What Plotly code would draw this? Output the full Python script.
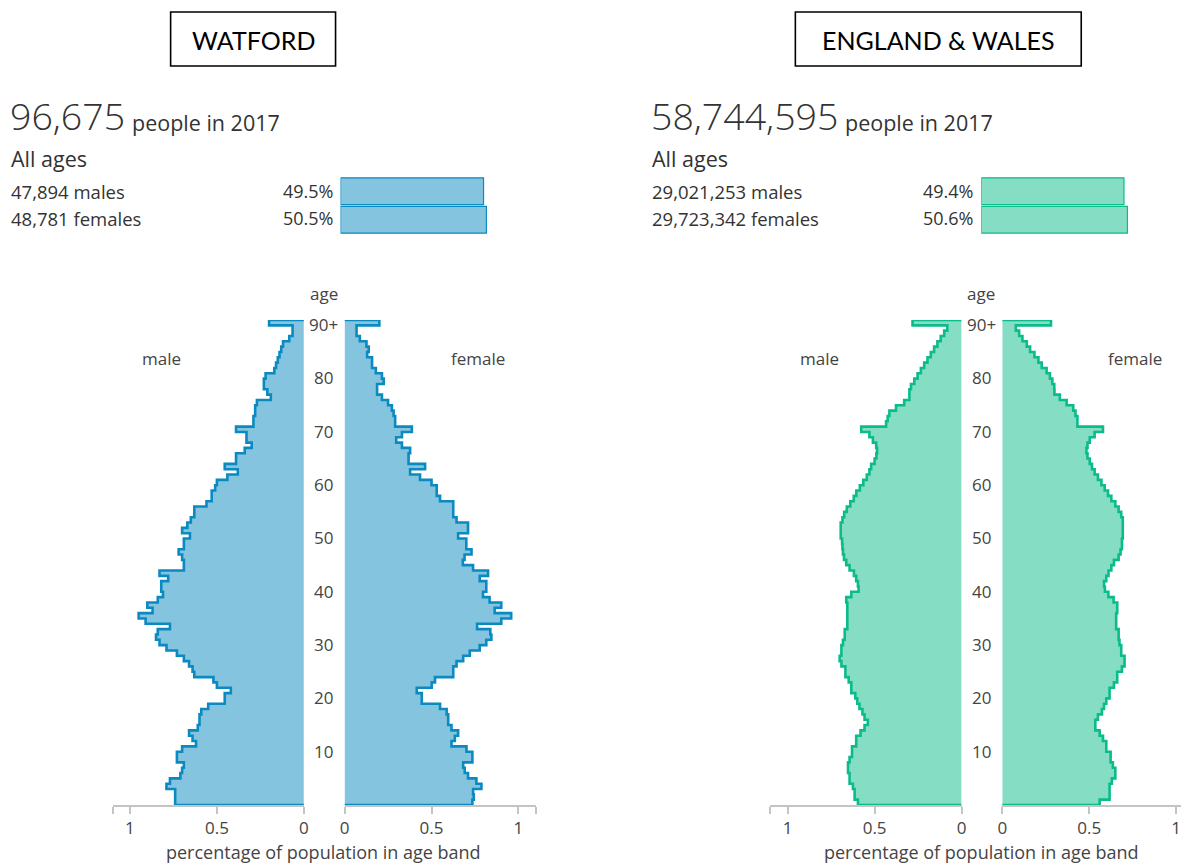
import plotly.graph_objects as go

W, H = 1186, 865

ages = list(range(0, 91))

watford_male = [0.74, 0.74, 0.74, 0.79, 0.77, 0.71, 0.70, 0.69, 0.73, 0.73,
                0.70, 0.62, 0.64, 0.66, 0.61, 0.60, 0.60, 0.59, 0.55, 0.455,
                0.455, 0.42, 0.50, 0.52, 0.63, 0.64, 0.66, 0.69, 0.73, 0.79,
                0.83, 0.85, 0.84, 0.77, 0.91, 0.95, 0.87, 0.90, 0.84, 0.81,
                0.82, 0.82, 0.78, 0.83, 0.69, 0.69, 0.70, 0.72, 0.69, 0.69,
                0.655, 0.70, 0.67, 0.65, 0.63, 0.63, 0.56, 0.53, 0.53, 0.51,
                0.50, 0.44, 0.38, 0.455, 0.39, 0.39, 0.34, 0.30, 0.33, 0.33,
                0.39, 0.29, 0.29, 0.28, 0.28, 0.27, 0.19, 0.21, 0.23, 0.23,
                0.22, 0.17, 0.16, 0.15, 0.14, 0.13, 0.12, 0.084, 0.065, 0.065,
                0.20]

watford_female = [0.735, 0.743, 0.739, 0.787, 0.758, 0.71, 0.691, 0.682, 0.735, 0.735,
                  0.701, 0.615, 0.634, 0.653, 0.615, 0.596, 0.596, 0.587, 0.549, 0.444,
                  0.444, 0.415, 0.501, 0.52, 0.625, 0.625, 0.644, 0.682, 0.72, 0.777,
                  0.815, 0.844, 0.838, 0.762, 0.901, 0.958, 0.863, 0.901, 0.834, 0.796,
                  0.815, 0.815, 0.777, 0.825, 0.739, 0.68, 0.69, 0.73, 0.70, 0.70,
                  0.653, 0.71, 0.71, 0.644, 0.625, 0.625, 0.625, 0.549, 0.53, 0.53,
                  0.50, 0.434, 0.377, 0.463, 0.368, 0.368, 0.377, 0.33, 0.297, 0.33,
                  0.387, 0.291, 0.291, 0.282, 0.272, 0.25, 0.215, 0.187, 0.187, 0.225,
                  0.215, 0.18, 0.158, 0.158, 0.13, 0.139, 0.126, 0.088, 0.069, 0.069,
                  0.20]

ew_male = [0.596, 0.615, 0.615, 0.625, 0.644, 0.644, 0.653, 0.653, 0.644, 0.63,
           0.63, 0.606, 0.606, 0.581, 0.558, 0.539, 0.558, 0.57, 0.587, 0.60,
           0.611, 0.634, 0.634, 0.649, 0.668, 0.668, 0.691, 0.701, 0.691, 0.691,
           0.682, 0.672, 0.672, 0.657, 0.657, 0.657, 0.657, 0.657, 0.663, 0.634,
           0.592, 0.596, 0.606, 0.619, 0.644, 0.663, 0.676, 0.682, 0.685, 0.687,
           0.695, 0.695, 0.695, 0.685, 0.675, 0.66, 0.64, 0.62, 0.605, 0.585,
           0.565, 0.545, 0.53, 0.52, 0.50, 0.49, 0.486, 0.491, 0.51, 0.53,
           0.577, 0.434, 0.425, 0.415, 0.377, 0.33, 0.30, 0.30, 0.291, 0.272,
           0.253, 0.234, 0.215, 0.196, 0.177, 0.158, 0.139, 0.12, 0.10, 0.082,
           0.282]

ew_female = [0.56, 0.617, 0.617, 0.617, 0.63, 0.65, 0.65, 0.636, 0.623, 0.623,
             0.598, 0.598, 0.579, 0.56, 0.535, 0.535, 0.55, 0.573, 0.585, 0.598,
             0.617, 0.617, 0.642, 0.661, 0.661, 0.688, 0.703, 0.703, 0.684, 0.684,
             0.674, 0.669, 0.669, 0.655, 0.655, 0.655, 0.661, 0.661, 0.64, 0.61,
             0.59, 0.585, 0.598, 0.611, 0.627, 0.642, 0.669, 0.68, 0.688, 0.688,
             0.693, 0.693, 0.693, 0.693, 0.684, 0.669, 0.65, 0.627, 0.608, 0.589,
             0.57, 0.55, 0.531, 0.516, 0.503, 0.49, 0.484, 0.49, 0.503, 0.531,
             0.579, 0.432, 0.432, 0.421, 0.408, 0.37, 0.331, 0.30, 0.299, 0.288,
             0.274, 0.255, 0.227, 0.208, 0.185, 0.16, 0.141, 0.116, 0.097, 0.078,
             0.28]

age_tick_vals = [10, 20, 30, 40, 50, 60, 70, 80, 90]
age_tick_text = ["10", "20", "30", "40", "50", "60", "70", "80", "90+"]

sex_labels = ["males", "females"]
watford_share = [0.495, 0.505]
ew_share = [0.494, 0.506]
watford_counts = ["47,894 males", "48,781 females"]
ew_counts = ["29,021,253 males", "29,723,342 females"]
watford_pct = ["49.5%", "50.5%"]
ew_pct = ["49.4%", "50.6%"]
watford_total = "96,675"
ew_total = "58,744,595"

BLUE = "#0a8ac0"
BLUE_FILL = "rgba(10,138,192,0.5)"
GREEN = "#0bbb8a"
GREEN_FILL = "rgba(11,187,138,0.5)"
TXT = "#333333"
AX = "#c4c4c4"
FONT = "Open Sans"

# horizontal calibration of layout positions
XOFF, XSCALE = 4.3, 0.992
X_RIGHT_EFF = XOFF + XSCALE * W


def px(x):
    v = ((x - XOFF) / XSCALE) / W
    return min(max(v, 0.0), 1.0)


def py(y):
    return 1 - y / H


def step_trace(vals, color, fill, xaxis):
    xs = [0, vals[0]] + list(vals) + [vals[-1], 0]
    ys = [ages[0] - 0.5, ages[0] - 0.5] + list(ages) + [ages[-1] + 0.5, ages[-1] + 0.5]
    return go.Scatter(x=xs, y=ys, mode="lines", line=dict(color=color, width=2.6, shape="vhv"),
                      fill="toself", fillcolor=fill, xaxis=xaxis, yaxis="y",
                      hoverinfo="skip", showlegend=False)


fig = go.Figure()
fig.add_trace(step_trace(watford_male, BLUE, BLUE_FILL, "x"))
fig.add_trace(step_trace(watford_female, BLUE, BLUE_FILL, "x2"))
fig.add_trace(step_trace(ew_male, GREEN, GREEN_FILL, "x3"))
fig.add_trace(step_trace(ew_female, GREEN, GREEN_FILL, "x4"))

# summary bars
fig.add_trace(go.Bar(x=watford_share, y=sex_labels, orientation="h", xaxis="x5", yaxis="y5",
                     marker=dict(color=BLUE_FILL, line=dict(color=BLUE, width=1.2)),
                     width=0.94, hoverinfo="skip", showlegend=False))
fig.add_trace(go.Bar(x=ew_share, y=sex_labels, orientation="h", xaxis="x6", yaxis="y6",
                     marker=dict(color=GREEN_FILL, line=dict(color=GREEN, width=1.2)),
                     width=0.94, hoverinfo="skip", showlegend=False))

YDOM = [py(805), py(320)]
UNIT = 174.0


def xax(zero_px, side, maxv=1.1):
    if side == "male":
        left = zero_px - maxv * UNIT
        rng = [maxv, 0]
        dom = [px(left), px(zero_px)]
        tv = [maxv, 1, 0.5, 0]
        tt = ["", "1", "0.5", "0"]
    else:
        right = zero_px + maxv * UNIT
        tv = [0, 0.5, 1, maxv]
        tt = ["0", "0.5", "1", ""]
        if right > X_RIGHT_EFF:
            right = X_RIGHT_EFF
            maxv = (right - zero_px) / UNIT
            tv = [0, 0.5, 1]
            tt = ["0", "0.5", "1"]
        rng = [0, maxv]
        dom = [px(zero_px), px(right)]
    return dict(domain=dom, range=rng, anchor="y", showgrid=False, zeroline=False,
                showline=True, linecolor=AX, linewidth=1.5, ticks="outside", ticklen=7,
                tickcolor=AX, tickwidth=1.5, tickvals=tv, ticktext=tt, layer="below traces",
                tickfont=dict(family=FONT, size=17, color="#444"), fixedrange=True)


BAR_UNIT = 289.0
fig.update_layout(
    width=W, height=H, autosize=False, margin=dict(l=0, r=0, t=0, b=0),
    paper_bgcolor="white", plot_bgcolor="rgba(0,0,0,0)",
    xaxis=xax(303.3, "male"),
    xaxis2=xax(344.0, "female"),
    xaxis3=xax(961.3, "male"),
    xaxis4=xax(1002.0, "female"),
    yaxis=dict(domain=YDOM, range=[-0.5, 90.5], visible=False, fixedrange=True),
    xaxis5=dict(domain=[px(340.0), px(340.0 + 0.6 * BAR_UNIT)], range=[0, 0.6], visible=False,
                anchor="y5", fixedrange=True),
    yaxis5=dict(domain=[py(234), py(177)], range=[1.5, -0.5], visible=False, anchor="x5",
                fixedrange=True),
    xaxis6=dict(domain=[px(981.0), px(981.0 + 0.6 * BAR_UNIT)], range=[0, 0.6], visible=False,
                anchor="y6", fixedrange=True),
    yaxis6=dict(domain=[py(234), py(177)], range=[1.5, -0.5], visible=False, anchor="x6",
                fixedrange=True),
    showlegend=False,
)

ann = []
PAD = 3


def text(x, y, s, size, anchor="left", color=TXT, family=FONT, weight=None):
    f = dict(family=family, size=size, color=color)
    if weight:
        f["weight"] = weight
    if anchor == "left":
        x = x - PAD
    elif anchor == "right":
        x = x + PAD
    ann.append(dict(x=px(x), y=py(y), xref="paper", yref="paper", text=s, showarrow=False,
                    xanchor=anchor, yanchor="middle", font=f))


# titles in boxes
for (x0, x1, label) in [(170, 335, "WATFORD"), (795, 1081, "ENGLAND &amp; WALES")]:
    fig.add_shape(type="rect", xref="paper", yref="paper", x0=px(x0), x1=px(x1),
                  y0=py(66), y1=py(12), line=dict(color="black", width=1.6))
    text((x0 + x1) / 2, 40, label, 25, anchor="center", color="black", family="Lato")

for (x0, total, counts, pct, pct_x, cx, male_x, female_x, people_x) in [
        (10, watford_total, watford_counts, watford_pct, 331, 323, 161, 478, 132),
        (652, ew_total, ew_counts, ew_pct, 972, 981, 819, 1135, 846)]:
    text(x0, 116, total, 37.5, weight=300)
    text(people_x, 122, "people in 2017", 21.5)
    text(x0 + 1, 158, "All ages", 21.5)
    text(x0 + 1, 191, counts[0], 18.5)
    text(x0 + 1, 218, counts[1], 18.5)
    text(pct_x, 191, pct[0], 18, anchor="right")
    text(pct_x, 218, pct[1], 18, anchor="right")
    text(cx, 294, "age", 17, anchor="center", color="#444")
    text(male_x, 358, "male", 17, anchor="center", color="#444")
    text(female_x, 358, "female", 17, anchor="center", color="#444")
    text(cx, 852, "percentage of population in age band", 18, anchor="center", color="#444")
    for v, t in zip(age_tick_vals, age_tick_text):
        ann.append(dict(x=px(cx), y=v, xref="paper", yref="y", text=t, showarrow=False,
                        xanchor="center", yanchor="middle", yshift=-2,
                        font=dict(family=FONT, size=17, color="#444")))

fig.update_layout(annotations=ann)

fig.write_html("out.html", config={"displayModeBar": False, "responsive": False},
               post_script="document.documentElement.style.overflow='hidden';"
                           "document.body.style.overflow='hidden';"
                           "document.body.style.margin='0';")
